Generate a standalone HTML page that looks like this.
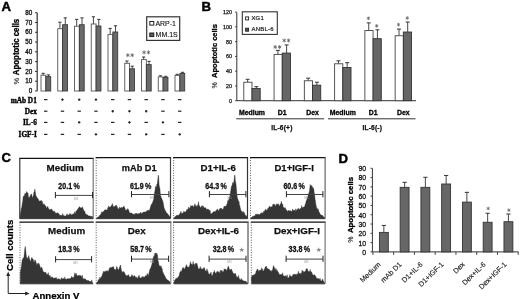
<!DOCTYPE html>
<html><head><meta charset="utf-8"><style>
html,body{margin:0;padding:0;background:#fff;}
body{width:520px;height:299px;overflow:hidden;font-family:"Liberation Sans",sans-serif;}
svg{display:block;filter:blur(0.35px);}
</style></head><body>
<svg width="520" height="299" viewBox="0 0 520 299">
<rect x="0" y="0" width="520" height="299" fill="#fff"/>
<text x="1.5" y="11.2" font-size="13.2" font-weight="bold" text-anchor="start" fill="#000" font-family="Liberation Sans, sans-serif" stroke="#000" stroke-width="0.45">A</text>
<line x1="37.2" y1="12.7" x2="37.2" y2="91.0" stroke="#333" stroke-width="1.2" />
<line x1="35.0" y1="91.0" x2="37.2" y2="91.0" stroke="#333" stroke-width="1.0" />
<text x="32.3" y="93.2" font-size="6.3" font-weight="normal" text-anchor="end" fill="#111" font-family="Liberation Sans, sans-serif" stroke="#111" stroke-width="0.3">0</text>
<line x1="35.0" y1="81.2125" x2="37.2" y2="81.2125" stroke="#333" stroke-width="1.0" />
<text x="32.3" y="83.41250000000001" font-size="6.3" font-weight="normal" text-anchor="end" fill="#111" font-family="Liberation Sans, sans-serif" stroke="#111" stroke-width="0.3">10</text>
<line x1="35.0" y1="71.425" x2="37.2" y2="71.425" stroke="#333" stroke-width="1.0" />
<text x="32.3" y="73.625" font-size="6.3" font-weight="normal" text-anchor="end" fill="#111" font-family="Liberation Sans, sans-serif" stroke="#111" stroke-width="0.3">20</text>
<line x1="35.0" y1="61.6375" x2="37.2" y2="61.6375" stroke="#333" stroke-width="1.0" />
<text x="32.3" y="63.837500000000006" font-size="6.3" font-weight="normal" text-anchor="end" fill="#111" font-family="Liberation Sans, sans-serif" stroke="#111" stroke-width="0.3">30</text>
<line x1="35.0" y1="51.85" x2="37.2" y2="51.85" stroke="#333" stroke-width="1.0" />
<text x="32.3" y="54.050000000000004" font-size="6.3" font-weight="normal" text-anchor="end" fill="#111" font-family="Liberation Sans, sans-serif" stroke="#111" stroke-width="0.3">40</text>
<line x1="35.0" y1="42.0625" x2="37.2" y2="42.0625" stroke="#333" stroke-width="1.0" />
<text x="32.3" y="44.2625" font-size="6.3" font-weight="normal" text-anchor="end" fill="#111" font-family="Liberation Sans, sans-serif" stroke="#111" stroke-width="0.3">50</text>
<line x1="35.0" y1="32.275" x2="37.2" y2="32.275" stroke="#333" stroke-width="1.0" />
<text x="32.3" y="34.475" font-size="6.3" font-weight="normal" text-anchor="end" fill="#111" font-family="Liberation Sans, sans-serif" stroke="#111" stroke-width="0.3">60</text>
<line x1="35.0" y1="22.487499999999997" x2="37.2" y2="22.487499999999997" stroke="#333" stroke-width="1.0" />
<text x="32.3" y="24.687499999999996" font-size="6.3" font-weight="normal" text-anchor="end" fill="#111" font-family="Liberation Sans, sans-serif" stroke="#111" stroke-width="0.3">70</text>
<line x1="35.0" y1="12.700000000000003" x2="37.2" y2="12.700000000000003" stroke="#333" stroke-width="1.0" />
<text x="32.3" y="14.900000000000002" font-size="6.3" font-weight="normal" text-anchor="end" fill="#111" font-family="Liberation Sans, sans-serif" stroke="#111" stroke-width="0.3">80</text>
<g transform="translate(19.0,75.2) rotate(-90) scale(0.895,1)"><text x="0" y="0" font-size="8.8" font-weight="bold" text-anchor="start" font-family="Liberation Sans, sans-serif" fill="#000" stroke="#000" stroke-width="0.3">Apoptotic cells</text></g>
<g transform="translate(19.0,81.1) rotate(-90)"><text x="0" y="0" font-size="7.5" text-anchor="middle" font-family="Liberation Sans, sans-serif" fill="#444" stroke="#444" stroke-width="0.2">%</text></g>
<line x1="43.175" y1="73.3" x2="43.175" y2="75.2" stroke="#333" stroke-width="0.9" />
<line x1="41.574999999999996" y1="73.3" x2="44.775" y2="73.3" stroke="#333" stroke-width="1.0" />
<rect x="41.0" y="75.2" width="4.85" height="15.799999999999997" fill="#fff" stroke="#555" stroke-width="0.9"/>
<line x1="48.525" y1="74.89999999999999" x2="48.525" y2="76.60000000000001" stroke="#333" stroke-width="0.9" />
<line x1="46.925" y1="74.89999999999999" x2="50.125" y2="74.89999999999999" stroke="#333" stroke-width="1.0" />
<rect x="45.85" y="76.60000000000001" width="4.85" height="14.399999999999991" fill="#6a6a6a" stroke="#3a3a3a" stroke-width="0.9"/>
<line x1="59.925" y1="22.2" x2="59.925" y2="28.7" stroke="#333" stroke-width="0.9" />
<line x1="58.324999999999996" y1="22.2" x2="61.525" y2="22.2" stroke="#333" stroke-width="1.0" />
<rect x="57.75" y="28.7" width="4.85" height="62.3" fill="#fff" stroke="#555" stroke-width="0.9"/>
<line x1="65.275" y1="17.900000000000002" x2="65.275" y2="24.7" stroke="#333" stroke-width="0.9" />
<line x1="63.675000000000004" y1="17.900000000000002" x2="66.875" y2="17.900000000000002" stroke="#333" stroke-width="1.0" />
<rect x="62.6" y="24.7" width="4.85" height="66.3" fill="#6a6a6a" stroke="#3a3a3a" stroke-width="0.9"/>
<line x1="76.675" y1="19.400000000000002" x2="76.675" y2="26.2" stroke="#333" stroke-width="0.9" />
<line x1="75.075" y1="19.400000000000002" x2="78.27499999999999" y2="19.400000000000002" stroke="#333" stroke-width="1.0" />
<rect x="74.5" y="26.2" width="4.85" height="64.8" fill="#fff" stroke="#555" stroke-width="0.9"/>
<line x1="82.02499999999999" y1="17.900000000000002" x2="82.02499999999999" y2="24.7" stroke="#333" stroke-width="0.9" />
<line x1="80.425" y1="17.900000000000002" x2="83.62499999999999" y2="17.900000000000002" stroke="#333" stroke-width="1.0" />
<rect x="79.35" y="24.7" width="4.85" height="66.3" fill="#6a6a6a" stroke="#3a3a3a" stroke-width="0.9"/>
<line x1="93.425" y1="16.8" x2="93.425" y2="24.0" stroke="#333" stroke-width="0.9" />
<line x1="91.825" y1="16.8" x2="95.02499999999999" y2="16.8" stroke="#333" stroke-width="1.0" />
<rect x="91.25" y="24.0" width="4.85" height="67.0" fill="#fff" stroke="#555" stroke-width="0.9"/>
<line x1="98.77499999999999" y1="19.400000000000002" x2="98.77499999999999" y2="26.0" stroke="#333" stroke-width="0.9" />
<line x1="97.175" y1="19.400000000000002" x2="100.37499999999999" y2="19.400000000000002" stroke="#333" stroke-width="1.0" />
<rect x="96.1" y="26.0" width="4.85" height="65.0" fill="#6a6a6a" stroke="#3a3a3a" stroke-width="0.9"/>
<line x1="110.175" y1="28.400000000000002" x2="110.175" y2="34.6" stroke="#333" stroke-width="0.9" />
<line x1="108.575" y1="28.400000000000002" x2="111.77499999999999" y2="28.400000000000002" stroke="#333" stroke-width="1.0" />
<rect x="108.0" y="34.6" width="4.85" height="56.4" fill="#fff" stroke="#555" stroke-width="0.9"/>
<line x1="115.52499999999999" y1="25.8" x2="115.52499999999999" y2="32.0" stroke="#333" stroke-width="0.9" />
<line x1="113.925" y1="25.8" x2="117.12499999999999" y2="25.8" stroke="#333" stroke-width="1.0" />
<rect x="112.85" y="32.0" width="4.85" height="59.0" fill="#6a6a6a" stroke="#3a3a3a" stroke-width="0.9"/>
<line x1="126.925" y1="61.0" x2="126.925" y2="63.3" stroke="#333" stroke-width="0.9" />
<line x1="125.325" y1="61.0" x2="128.525" y2="61.0" stroke="#333" stroke-width="1.0" />
<rect x="124.75" y="63.3" width="4.85" height="27.700000000000003" fill="#fff" stroke="#555" stroke-width="0.9"/>
<line x1="132.275" y1="66.2" x2="132.275" y2="68.80000000000001" stroke="#333" stroke-width="0.9" />
<line x1="130.675" y1="66.2" x2="133.875" y2="66.2" stroke="#333" stroke-width="1.0" />
<rect x="129.6" y="68.80000000000001" width="4.85" height="22.19999999999999" fill="#6a6a6a" stroke="#3a3a3a" stroke-width="0.9"/>
<line x1="143.675" y1="57.0" x2="143.675" y2="59.6" stroke="#333" stroke-width="0.9" />
<line x1="142.07500000000002" y1="57.0" x2="145.275" y2="57.0" stroke="#333" stroke-width="1.0" />
<rect x="141.5" y="59.6" width="4.85" height="31.4" fill="#fff" stroke="#555" stroke-width="0.9"/>
<line x1="149.025" y1="61.3" x2="149.025" y2="64.60000000000001" stroke="#333" stroke-width="0.9" />
<line x1="147.425" y1="61.3" x2="150.625" y2="61.3" stroke="#333" stroke-width="1.0" />
<rect x="146.35" y="64.60000000000001" width="4.85" height="26.39999999999999" fill="#6a6a6a" stroke="#3a3a3a" stroke-width="0.9"/>
<line x1="160.425" y1="75.8" x2="160.425" y2="76.9" stroke="#333" stroke-width="0.9" />
<line x1="158.82500000000002" y1="75.8" x2="162.025" y2="75.8" stroke="#333" stroke-width="1.0" />
<rect x="158.25" y="76.9" width="4.85" height="14.099999999999994" fill="#fff" stroke="#555" stroke-width="0.9"/>
<line x1="165.775" y1="76.3" x2="165.775" y2="77.4" stroke="#333" stroke-width="0.9" />
<line x1="164.175" y1="76.3" x2="167.375" y2="76.3" stroke="#333" stroke-width="1.0" />
<rect x="163.1" y="77.4" width="4.85" height="13.599999999999994" fill="#6a6a6a" stroke="#3a3a3a" stroke-width="0.9"/>
<line x1="177.175" y1="74.3" x2="177.175" y2="75.4" stroke="#333" stroke-width="0.9" />
<line x1="175.57500000000002" y1="74.3" x2="178.775" y2="74.3" stroke="#333" stroke-width="1.0" />
<rect x="175.0" y="75.4" width="4.85" height="15.599999999999994" fill="#fff" stroke="#555" stroke-width="0.9"/>
<line x1="182.525" y1="72.3" x2="182.525" y2="73.4" stroke="#333" stroke-width="0.9" />
<line x1="180.925" y1="72.3" x2="184.125" y2="72.3" stroke="#333" stroke-width="1.0" />
<rect x="179.85" y="73.4" width="4.85" height="17.599999999999994" fill="#6a6a6a" stroke="#3a3a3a" stroke-width="0.9"/>
<line x1="127.8" y1="53.25" x2="127.8" y2="57.15" stroke="#666" stroke-width="0.85" />
<line x1="126.11" y1="54.23" x2="129.49" y2="56.18" stroke="#666" stroke-width="0.85" />
<line x1="129.49" y1="54.23" x2="126.11" y2="56.18" stroke="#666" stroke-width="0.85" />
<line x1="132.2" y1="53.25" x2="132.2" y2="57.15" stroke="#666" stroke-width="0.85" />
<line x1="130.51" y1="54.23" x2="133.89" y2="56.18" stroke="#666" stroke-width="0.85" />
<line x1="133.89" y1="54.23" x2="130.51" y2="56.18" stroke="#666" stroke-width="0.85" />
<line x1="144.1" y1="50.45" x2="144.1" y2="54.35" stroke="#666" stroke-width="0.85" />
<line x1="142.41" y1="51.42" x2="145.79" y2="53.38" stroke="#666" stroke-width="0.85" />
<line x1="145.79" y1="51.42" x2="142.41" y2="53.38" stroke="#666" stroke-width="0.85" />
<line x1="148.5" y1="50.45" x2="148.5" y2="54.35" stroke="#666" stroke-width="0.85" />
<line x1="146.81" y1="51.42" x2="150.19" y2="53.38" stroke="#666" stroke-width="0.85" />
<line x1="150.19" y1="51.42" x2="146.81" y2="53.38" stroke="#666" stroke-width="0.85" />
<rect x="146.7" y="16.8" width="33.0" height="23.6" fill="#fff" stroke="#333" stroke-width="1.2"/>
<rect x="149.8" y="21.5" width="4.0" height="3.6" fill="#fff" stroke="#222" stroke-width="1.0"/>
<rect x="149.8" y="33.0" width="4.0" height="3.6" fill="#555" stroke="#222" stroke-width="1.0"/>
<text x="155.4" y="25.5" font-size="7.0" font-weight="normal" text-anchor="start" fill="#111" font-family="Liberation Sans, sans-serif" stroke="#111" stroke-width="0.12">ARP-1</text>
<text x="155.6" y="37.4" font-size="7.0" font-weight="normal" text-anchor="start" fill="#111" font-family="Liberation Sans, sans-serif" stroke="#111" stroke-width="0.12">MM.1S</text>
<text x="36.8" y="103.0" font-size="7.3" font-weight="bold" text-anchor="end" fill="#000" font-family="Liberation Serif, serif" stroke="#000" stroke-width="0.35">mAb D1</text>
<line x1="44.0" y1="99.6" x2="47.400000000000006" y2="99.6" stroke="#222" stroke-width="1.2" />
<line x1="61.25" y1="99.6" x2="63.650000000000006" y2="99.6" stroke="#222" stroke-width="1.2" />
<line x1="62.45" y1="98.39999999999999" x2="62.45" y2="100.8" stroke="#222" stroke-width="1.2" />
<line x1="78.0" y1="99.6" x2="80.4" y2="99.6" stroke="#222" stroke-width="1.2" />
<line x1="79.2" y1="98.39999999999999" x2="79.2" y2="100.8" stroke="#222" stroke-width="1.2" />
<line x1="94.75" y1="99.6" x2="97.15" y2="99.6" stroke="#222" stroke-width="1.2" />
<line x1="95.95" y1="98.39999999999999" x2="95.95" y2="100.8" stroke="#222" stroke-width="1.2" />
<line x1="111.0" y1="99.6" x2="114.4" y2="99.6" stroke="#222" stroke-width="1.2" />
<line x1="127.74999999999999" y1="99.6" x2="131.14999999999998" y2="99.6" stroke="#222" stroke-width="1.2" />
<line x1="144.5" y1="99.6" x2="147.89999999999998" y2="99.6" stroke="#222" stroke-width="1.2" />
<line x1="161.25" y1="99.6" x2="164.64999999999998" y2="99.6" stroke="#222" stroke-width="1.2" />
<line x1="178.0" y1="99.6" x2="181.39999999999998" y2="99.6" stroke="#222" stroke-width="1.2" />
<text x="36.8" y="114.2" font-size="7.3" font-weight="bold" text-anchor="end" fill="#000" font-family="Liberation Serif, serif" stroke="#000" stroke-width="0.35">Dex</text>
<line x1="44.0" y1="111.2" x2="47.400000000000006" y2="111.2" stroke="#222" stroke-width="1.2" />
<line x1="60.75" y1="111.2" x2="64.15" y2="111.2" stroke="#222" stroke-width="1.2" />
<line x1="77.5" y1="111.2" x2="80.9" y2="111.2" stroke="#222" stroke-width="1.2" />
<line x1="94.25" y1="111.2" x2="97.65" y2="111.2" stroke="#222" stroke-width="1.2" />
<line x1="111.5" y1="111.2" x2="113.9" y2="111.2" stroke="#222" stroke-width="1.2" />
<line x1="112.7" y1="110.0" x2="112.7" y2="112.4" stroke="#222" stroke-width="1.2" />
<line x1="128.25" y1="111.2" x2="130.64999999999998" y2="111.2" stroke="#222" stroke-width="1.2" />
<line x1="129.45" y1="110.0" x2="129.45" y2="112.4" stroke="#222" stroke-width="1.2" />
<line x1="145.0" y1="111.2" x2="147.39999999999998" y2="111.2" stroke="#222" stroke-width="1.2" />
<line x1="146.2" y1="110.0" x2="146.2" y2="112.4" stroke="#222" stroke-width="1.2" />
<line x1="161.25" y1="111.2" x2="164.64999999999998" y2="111.2" stroke="#222" stroke-width="1.2" />
<line x1="178.0" y1="111.2" x2="181.39999999999998" y2="111.2" stroke="#222" stroke-width="1.2" />
<text x="36.8" y="125.2" font-size="7.3" font-weight="bold" text-anchor="end" fill="#000" font-family="Liberation Serif, serif" stroke="#000" stroke-width="0.35">IL-6</text>
<line x1="44.0" y1="122.4" x2="47.400000000000006" y2="122.4" stroke="#222" stroke-width="1.2" />
<line x1="60.75" y1="122.4" x2="64.15" y2="122.4" stroke="#222" stroke-width="1.2" />
<line x1="78.0" y1="122.4" x2="80.4" y2="122.4" stroke="#222" stroke-width="1.2" />
<line x1="79.2" y1="121.2" x2="79.2" y2="123.60000000000001" stroke="#222" stroke-width="1.2" />
<line x1="94.25" y1="122.4" x2="97.65" y2="122.4" stroke="#222" stroke-width="1.2" />
<line x1="111.0" y1="122.4" x2="114.4" y2="122.4" stroke="#222" stroke-width="1.2" />
<line x1="128.25" y1="122.4" x2="130.64999999999998" y2="122.4" stroke="#222" stroke-width="1.2" />
<line x1="129.45" y1="121.2" x2="129.45" y2="123.60000000000001" stroke="#222" stroke-width="1.2" />
<line x1="144.5" y1="122.4" x2="147.89999999999998" y2="122.4" stroke="#222" stroke-width="1.2" />
<line x1="161.75" y1="122.4" x2="164.14999999999998" y2="122.4" stroke="#222" stroke-width="1.2" />
<line x1="162.95" y1="121.2" x2="162.95" y2="123.60000000000001" stroke="#222" stroke-width="1.2" />
<line x1="178.0" y1="122.4" x2="181.39999999999998" y2="122.4" stroke="#222" stroke-width="1.2" />
<text x="36.8" y="137.3" font-size="7.3" font-weight="bold" text-anchor="end" fill="#000" font-family="Liberation Serif, serif" stroke="#000" stroke-width="0.35">IGF-I</text>
<line x1="44.0" y1="134.4" x2="47.400000000000006" y2="134.4" stroke="#222" stroke-width="1.2" />
<line x1="60.75" y1="134.4" x2="64.15" y2="134.4" stroke="#222" stroke-width="1.2" />
<line x1="77.5" y1="134.4" x2="80.9" y2="134.4" stroke="#222" stroke-width="1.2" />
<line x1="94.75" y1="134.4" x2="97.15" y2="134.4" stroke="#222" stroke-width="1.2" />
<line x1="95.95" y1="133.20000000000002" x2="95.95" y2="135.6" stroke="#222" stroke-width="1.2" />
<line x1="111.0" y1="134.4" x2="114.4" y2="134.4" stroke="#222" stroke-width="1.2" />
<line x1="127.74999999999999" y1="134.4" x2="131.14999999999998" y2="134.4" stroke="#222" stroke-width="1.2" />
<line x1="145.0" y1="134.4" x2="147.39999999999998" y2="134.4" stroke="#222" stroke-width="1.2" />
<line x1="146.2" y1="133.20000000000002" x2="146.2" y2="135.6" stroke="#222" stroke-width="1.2" />
<line x1="161.25" y1="134.4" x2="164.64999999999998" y2="134.4" stroke="#222" stroke-width="1.2" />
<line x1="178.5" y1="134.4" x2="180.89999999999998" y2="134.4" stroke="#222" stroke-width="1.2" />
<line x1="179.7" y1="133.20000000000002" x2="179.7" y2="135.6" stroke="#222" stroke-width="1.2" />
<text x="201.4" y="10.8" font-size="13.2" font-weight="bold" text-anchor="start" fill="#000" font-family="Liberation Sans, sans-serif" stroke="#000" stroke-width="0.45">B</text>
<line x1="236.8" y1="12.3" x2="236.8" y2="100.7" stroke="#333" stroke-width="1.0" />
<line x1="236.8" y1="100.7" x2="416" y2="100.7" stroke="#333" stroke-width="1.0" />
<line x1="235.0" y1="100.7" x2="236.8" y2="100.7" stroke="#333" stroke-width="0.9" />
<text x="232.0" y="102.60000000000001" font-size="5.4" font-weight="normal" text-anchor="end" fill="#111" font-family="Liberation Sans, sans-serif" stroke="#111" stroke-width="0.25">0</text>
<line x1="235.0" y1="85.93333333333334" x2="236.8" y2="85.93333333333334" stroke="#333" stroke-width="0.9" />
<text x="232.0" y="87.83333333333334" font-size="5.4" font-weight="normal" text-anchor="end" fill="#111" font-family="Liberation Sans, sans-serif" stroke="#111" stroke-width="0.25">20</text>
<line x1="235.0" y1="71.16666666666667" x2="236.8" y2="71.16666666666667" stroke="#333" stroke-width="0.9" />
<text x="232.0" y="73.06666666666668" font-size="5.4" font-weight="normal" text-anchor="end" fill="#111" font-family="Liberation Sans, sans-serif" stroke="#111" stroke-width="0.25">40</text>
<line x1="235.0" y1="56.4" x2="236.8" y2="56.4" stroke="#333" stroke-width="0.9" />
<text x="232.0" y="58.3" font-size="5.4" font-weight="normal" text-anchor="end" fill="#111" font-family="Liberation Sans, sans-serif" stroke="#111" stroke-width="0.25">60</text>
<line x1="235.0" y1="41.63333333333333" x2="236.8" y2="41.63333333333333" stroke="#333" stroke-width="0.9" />
<text x="232.0" y="43.53333333333333" font-size="5.4" font-weight="normal" text-anchor="end" fill="#111" font-family="Liberation Sans, sans-serif" stroke="#111" stroke-width="0.25">80</text>
<line x1="235.0" y1="26.86666666666666" x2="236.8" y2="26.86666666666666" stroke="#333" stroke-width="0.9" />
<text x="232.0" y="28.76666666666666" font-size="5.4" font-weight="normal" text-anchor="end" fill="#111" font-family="Liberation Sans, sans-serif" stroke="#111" stroke-width="0.25">100</text>
<line x1="235.0" y1="12.099999999999994" x2="236.8" y2="12.099999999999994" stroke="#333" stroke-width="0.9" />
<text x="232.0" y="13.999999999999995" font-size="5.4" font-weight="normal" text-anchor="end" fill="#111" font-family="Liberation Sans, sans-serif" stroke="#111" stroke-width="0.25">120</text>
<g transform="translate(217.2,77.9) rotate(-90) scale(1.0,1)"><text x="0" y="0" font-size="7.5" font-weight="bold" text-anchor="start" font-family="Liberation Sans, sans-serif" fill="#000" stroke="#000" stroke-width="0.3">Apoptotic cells</text></g>
<g transform="translate(217.2,85.4) rotate(-90)"><text x="0" y="0" font-size="7" text-anchor="middle" font-family="Liberation Sans, sans-serif" fill="#444" stroke="#444" stroke-width="0.2">%</text></g>
<line x1="247.65" y1="79.28833333333333" x2="247.65" y2="82.24166666666667" stroke="#333" stroke-width="0.9" />
<line x1="245.65" y1="79.28833333333333" x2="249.65" y2="79.28833333333333" stroke="#333" stroke-width="1.0" />
<rect x="243.8" y="82.24166666666667" width="8.2" height="18.45833333333333" fill="#fff" stroke="#444" stroke-width="0.9"/>
<line x1="256.35" y1="86.67166666666667" x2="256.35" y2="88.5175" stroke="#333" stroke-width="0.9" />
<line x1="254.35000000000002" y1="86.67166666666667" x2="258.35" y2="86.67166666666667" stroke="#333" stroke-width="1.0" />
<rect x="252.0" y="88.5175" width="8.2" height="12.182500000000005" fill="#666" stroke="#333" stroke-width="0.9"/>
<line x1="277.92" y1="50.345666666666666" x2="277.92" y2="54.406499999999994" stroke="#333" stroke-width="0.9" />
<line x1="275.92" y1="50.345666666666666" x2="279.92" y2="50.345666666666666" stroke="#333" stroke-width="1.0" />
<rect x="274.07" y="54.406499999999994" width="8.2" height="46.29350000000001" fill="#fff" stroke="#444" stroke-width="0.9"/>
<line x1="286.62" y1="44.95583333333333" x2="286.62" y2="53.0775" stroke="#333" stroke-width="0.9" />
<line x1="284.62" y1="44.95583333333333" x2="288.62" y2="44.95583333333333" stroke="#333" stroke-width="1.0" />
<rect x="282.27" y="53.0775" width="8.2" height="47.6225" fill="#666" stroke="#333" stroke-width="0.9"/>
<line x1="308.19000000000005" y1="78.18083333333334" x2="308.19000000000005" y2="80.765" stroke="#333" stroke-width="0.9" />
<line x1="306.19000000000005" y1="78.18083333333334" x2="310.19000000000005" y2="78.18083333333334" stroke="#333" stroke-width="1.0" />
<rect x="304.34000000000003" y="80.765" width="8.2" height="19.935000000000002" fill="#fff" stroke="#444" stroke-width="0.9"/>
<line x1="316.89000000000004" y1="82.24166666666667" x2="316.89000000000004" y2="85.19500000000001" stroke="#333" stroke-width="0.9" />
<line x1="314.89000000000004" y1="82.24166666666667" x2="318.89000000000004" y2="82.24166666666667" stroke="#333" stroke-width="1.0" />
<rect x="312.54" y="85.19500000000001" width="8.2" height="15.504999999999995" fill="#666" stroke="#333" stroke-width="0.9"/>
<line x1="338.46000000000004" y1="60.83" x2="338.46000000000004" y2="63.78333333333333" stroke="#333" stroke-width="0.9" />
<line x1="336.46000000000004" y1="60.83" x2="340.46000000000004" y2="60.83" stroke="#333" stroke-width="1.0" />
<rect x="334.61" y="63.78333333333333" width="8.2" height="36.91666666666667" fill="#fff" stroke="#444" stroke-width="0.9"/>
<line x1="347.16" y1="62.67583333333333" x2="347.16" y2="67.475" stroke="#333" stroke-width="0.9" />
<line x1="345.16" y1="62.67583333333333" x2="349.16" y2="62.67583333333333" stroke="#333" stroke-width="1.0" />
<rect x="342.81" y="67.475" width="8.2" height="33.22500000000001" fill="#666" stroke="#333" stroke-width="0.9"/>
<line x1="368.73" y1="22.879666666666665" x2="368.73" y2="30.558333333333337" stroke="#333" stroke-width="0.9" />
<line x1="366.73" y1="22.879666666666665" x2="370.73" y2="22.879666666666665" stroke="#333" stroke-width="1.0" />
<rect x="364.88" y="30.558333333333337" width="8.2" height="70.14166666666667" fill="#fff" stroke="#444" stroke-width="0.9"/>
<line x1="377.43" y1="29.819999999999993" x2="377.43" y2="38.68" stroke="#333" stroke-width="0.9" />
<line x1="375.43" y1="29.819999999999993" x2="379.43" y2="29.819999999999993" stroke="#333" stroke-width="1.0" />
<rect x="373.08" y="38.68" width="8.2" height="62.02" fill="#666" stroke="#333" stroke-width="0.9"/>
<line x1="399.0" y1="29.081666666666663" x2="399.0" y2="35.72666666666666" stroke="#333" stroke-width="0.9" />
<line x1="397.0" y1="29.081666666666663" x2="401.0" y2="29.081666666666663" stroke="#333" stroke-width="1.0" />
<rect x="395.15" y="35.72666666666666" width="8.2" height="64.97333333333334" fill="#fff" stroke="#444" stroke-width="0.9"/>
<line x1="407.7" y1="22.067499999999995" x2="407.7" y2="32.035" stroke="#333" stroke-width="0.9" />
<line x1="405.7" y1="22.067499999999995" x2="409.7" y2="22.067499999999995" stroke="#333" stroke-width="1.0" />
<rect x="403.34999999999997" y="32.035" width="8.2" height="68.665" fill="#666" stroke="#333" stroke-width="0.9"/>
<line x1="275.2" y1="45.05" x2="275.2" y2="48.95" stroke="#666" stroke-width="0.85" />
<line x1="273.51" y1="46.02" x2="276.89" y2="47.98" stroke="#666" stroke-width="0.85" />
<line x1="276.89" y1="46.02" x2="273.51" y2="47.98" stroke="#666" stroke-width="0.85" />
<line x1="279.6" y1="45.05" x2="279.6" y2="48.95" stroke="#666" stroke-width="0.85" />
<line x1="277.91" y1="46.02" x2="281.29" y2="47.98" stroke="#666" stroke-width="0.85" />
<line x1="281.29" y1="46.02" x2="277.91" y2="47.98" stroke="#666" stroke-width="0.85" />
<line x1="284.2" y1="38.55" x2="284.2" y2="42.45" stroke="#666" stroke-width="0.85" />
<line x1="282.51" y1="39.52" x2="285.89" y2="41.48" stroke="#666" stroke-width="0.85" />
<line x1="285.89" y1="39.52" x2="282.51" y2="41.48" stroke="#666" stroke-width="0.85" />
<line x1="288.6" y1="38.55" x2="288.6" y2="42.45" stroke="#666" stroke-width="0.85" />
<line x1="286.91" y1="39.52" x2="290.29" y2="41.48" stroke="#666" stroke-width="0.85" />
<line x1="290.29" y1="39.52" x2="286.91" y2="41.48" stroke="#666" stroke-width="0.85" />
<line x1="368.4" y1="16.5" x2="368.4" y2="20.1" stroke="#666" stroke-width="0.8" />
<line x1="366.84" y1="17.4" x2="369.96" y2="19.2" stroke="#666" stroke-width="0.8" />
<line x1="369.96" y1="17.4" x2="366.84" y2="19.2" stroke="#666" stroke-width="0.8" />
<line x1="376.7" y1="24.1" x2="376.7" y2="27.7" stroke="#666" stroke-width="0.8" />
<line x1="375.14" y1="25.0" x2="378.26" y2="26.8" stroke="#666" stroke-width="0.8" />
<line x1="378.26" y1="25.0" x2="375.14" y2="26.8" stroke="#666" stroke-width="0.8" />
<line x1="398.5" y1="22.8" x2="398.5" y2="26.4" stroke="#666" stroke-width="0.8" />
<line x1="396.94" y1="23.7" x2="400.06" y2="25.5" stroke="#666" stroke-width="0.8" />
<line x1="400.06" y1="23.7" x2="396.94" y2="25.5" stroke="#666" stroke-width="0.8" />
<line x1="407.3" y1="16.2" x2="407.3" y2="19.8" stroke="#666" stroke-width="0.8" />
<line x1="405.74" y1="17.1" x2="408.86" y2="18.9" stroke="#666" stroke-width="0.8" />
<line x1="408.86" y1="17.1" x2="405.74" y2="18.9" stroke="#666" stroke-width="0.8" />
<rect x="242.3" y="11.8" width="35.0" height="22.6" fill="#fff" stroke="#333" stroke-width="1.1"/>
<rect x="245.6" y="16.9" width="3.0" height="3.0" fill="#fff" stroke="#222" stroke-width="0.9"/>
<rect x="245.6" y="28.2" width="3.0" height="3.0" fill="#555" stroke="#222" stroke-width="0.9"/>
<text x="251.4" y="20.1" font-size="6.0" font-weight="normal" text-anchor="start" fill="#222" font-family="Liberation Sans, sans-serif" stroke="#222" stroke-width="0.2" letter-spacing="0.2">XG1</text>
<text x="251.4" y="31.3" font-size="6.0" font-weight="normal" text-anchor="start" fill="#222" font-family="Liberation Sans, sans-serif" stroke="#222" stroke-width="0.2" letter-spacing="0.25">ANBL-6</text>
<text x="252.0" y="114.8" font-size="6.9" font-weight="bold" text-anchor="middle" fill="#000" font-family="Liberation Sans, sans-serif" stroke="#000" stroke-width="0.3">Medium</text>
<text x="282.27" y="114.8" font-size="6.9" font-weight="bold" text-anchor="middle" fill="#000" font-family="Liberation Sans, sans-serif" stroke="#000" stroke-width="0.3">D1</text>
<text x="312.54" y="114.8" font-size="6.9" font-weight="bold" text-anchor="middle" fill="#000" font-family="Liberation Sans, sans-serif" stroke="#000" stroke-width="0.3">Dex</text>
<text x="342.81" y="114.8" font-size="6.9" font-weight="bold" text-anchor="middle" fill="#000" font-family="Liberation Sans, sans-serif" stroke="#000" stroke-width="0.3">Medium</text>
<text x="373.08" y="114.8" font-size="6.9" font-weight="bold" text-anchor="middle" fill="#000" font-family="Liberation Sans, sans-serif" stroke="#000" stroke-width="0.3">D1</text>
<text x="403.34999999999997" y="114.8" font-size="6.9" font-weight="bold" text-anchor="middle" fill="#000" font-family="Liberation Sans, sans-serif" stroke="#000" stroke-width="0.3">Dex</text>
<line x1="236.3" y1="118.8" x2="324.2" y2="118.8" stroke="#333" stroke-width="1.0" />
<line x1="328.0" y1="118.8" x2="415.5" y2="118.8" stroke="#333" stroke-width="1.0" />
<text x="281.9" y="129.8" font-size="6.6" font-weight="bold" text-anchor="middle" fill="#111" font-family="Liberation Sans, sans-serif" stroke="#111" stroke-width="0.25" letter-spacing="0.2">IL-6(+)</text>
<text x="372.3" y="129.8" font-size="6.6" font-weight="bold" text-anchor="middle" fill="#111" font-family="Liberation Sans, sans-serif" stroke="#111" stroke-width="0.25" letter-spacing="0.2">IL-6(-)</text>
<text x="1.4" y="161.8" font-size="13.0" font-weight="bold" text-anchor="start" fill="#000" font-family="Liberation Sans, sans-serif" stroke="#000" stroke-width="0.45">C</text>
<polygon points="20.10,218.50 20.40,214.07 20.85,211.60 21.30,208.17 21.75,207.47 22.20,204.01 22.65,201.47 23.10,197.23 23.55,196.10 24.00,196.23 24.45,195.32 24.90,193.39 25.35,194.57 25.80,193.26 26.25,192.44 26.70,191.43 27.15,192.63 27.60,192.82 28.05,193.28 28.50,197.97 28.95,197.17 29.40,197.15 29.85,197.57 30.30,194.79 30.75,196.41 31.20,194.03 31.65,193.89 32.10,196.43 32.55,197.93 33.00,196.62 33.45,195.52 33.90,192.12 34.35,191.94 34.80,189.05 35.25,191.59 35.70,194.64 36.15,195.90 36.60,196.82 37.05,197.83 37.50,197.99 37.95,198.63 38.40,199.14 38.85,200.80 39.30,201.50 39.75,200.81 40.20,200.69 40.65,201.33 41.10,200.16 41.55,201.01 42.00,202.01 42.45,201.46 42.90,205.31 43.35,203.69 43.80,204.46 44.25,204.02 44.70,205.15 45.15,205.98 45.60,205.66 46.05,206.72 46.50,208.09 46.95,208.00 47.40,206.63 47.85,206.46 48.30,207.95 48.75,208.71 49.20,209.76 49.65,209.41 50.10,209.62 50.55,209.44 51.00,209.77 51.45,208.78 51.90,209.28 52.35,210.67 52.80,210.47 53.25,211.61 53.70,211.46 54.15,211.01 54.60,211.59 55.05,212.65 55.50,212.63 55.95,213.48 56.40,213.33 56.85,212.86 57.30,212.74 57.75,213.08 58.20,213.11 58.65,214.03 59.10,214.00 59.55,214.81 60.00,215.66 60.45,215.33 60.90,215.16 61.35,215.38 61.80,215.31 62.25,215.21 62.70,213.55 63.15,214.85 63.60,215.70 64.05,215.68 64.50,216.06 64.95,215.67 65.40,216.20 65.85,216.17 66.30,214.35 66.75,215.91 67.20,213.80 67.65,215.94 68.10,215.06 68.55,214.80 69.00,215.16 69.45,214.55 69.90,213.50 70.35,215.14 70.80,213.51 71.25,214.95 71.70,214.96 72.15,214.54 72.60,214.23 73.05,213.86 73.50,214.04 73.95,214.15 74.40,211.72 74.85,213.74 75.30,213.46 75.75,211.80 76.20,210.79 76.65,210.91 77.10,210.18 77.55,209.31 78.00,208.81 78.45,207.81 78.90,207.95 79.35,206.85 79.80,206.73 80.25,208.12 80.70,207.64 81.15,207.65 81.60,207.91 82.05,207.73 82.50,206.67 82.95,208.39 83.40,209.31 83.85,210.67 84.30,211.46 84.75,210.81 85.20,213.55 85.65,213.79 86.10,213.88 86.55,214.75 87.00,215.09 87.45,214.87 87.90,215.27 88.35,215.92 88.80,215.83 89.25,216.11 89.70,216.07 90.15,215.83 90.60,216.35 91.05,216.75 91.50,216.61 91.95,215.93 92.40,216.96 92.85,216.26 93.00,218.50" fill="#353535" stroke="#222" stroke-width="0.35"/>
<line x1="19.3" y1="158.3" x2="93.8" y2="158.3" stroke="#111" stroke-width="1.2" />
<line x1="93.2" y1="158.3" x2="93.2" y2="218.7" stroke="#777" stroke-width="1.2" />
<line x1="19.8" y1="158.3" x2="19.8" y2="218.7" stroke="#222" stroke-width="1.1" />
<line x1="19.8" y1="218.7" x2="93.2" y2="218.7" stroke="#222" stroke-width="0.8" />
<text x="65.1" y="170.6" font-size="9.8" font-weight="bold" text-anchor="middle" fill="#111" font-family="Liberation Sans, sans-serif" stroke="#111" stroke-width="0.25">Medium</text>
<text transform="translate(69.00,188.5) scale(0.8,1)" font-size="8.9" font-weight="bold" text-anchor="middle" font-family="Liberation Sans, sans-serif" fill="#111" stroke="#111" stroke-width="0.3">20.1<tspan dx="1.6">%</tspan></text>
<line x1="55.4" y1="195.4" x2="92.6" y2="195.4" stroke="#444" stroke-width="1.0" />
<line x1="55.4" y1="192.0" x2="55.4" y2="198.20000000000002" stroke="#222" stroke-width="1.0" />
<line x1="92.6" y1="192.0" x2="92.6" y2="198.20000000000002" stroke="#222" stroke-width="1.0" />
<text x="76.0" y="199.6" font-size="3.4" font-weight="normal" text-anchor="middle" fill="#999" font-family="Liberation Sans, sans-serif" >M1</text>
<polygon points="96.50,218.50 97.00,217.56 97.45,217.22 97.90,217.30 98.35,217.02 98.80,216.73 99.25,215.84 99.70,215.36 100.15,215.05 100.60,214.60 101.05,213.90 101.50,211.70 101.95,212.71 102.40,212.23 102.85,211.63 103.30,211.45 103.75,211.71 104.20,210.41 104.65,210.09 105.10,209.66 105.55,209.70 106.00,209.78 106.45,210.07 106.90,210.19 107.35,209.66 107.80,207.51 108.25,207.68 108.70,205.96 109.15,206.78 109.60,207.30 110.05,207.31 110.50,206.72 110.95,206.41 111.40,205.40 111.85,205.32 112.30,203.44 112.75,204.99 113.20,206.52 113.65,206.91 114.10,206.31 114.55,206.42 115.00,206.91 115.45,205.19 115.90,205.67 116.35,204.98 116.80,206.79 117.25,206.48 117.70,208.86 118.15,208.33 118.60,209.23 119.05,209.34 119.50,206.84 119.95,207.92 120.40,207.89 120.85,207.93 121.30,207.25 121.75,207.78 122.20,207.23 122.65,208.46 123.10,206.94 123.55,206.87 124.00,205.91 124.45,207.53 124.90,208.06 125.35,209.77 125.80,210.59 126.25,209.89 126.70,210.06 127.15,209.55 127.60,208.84 128.05,208.83 128.50,209.64 128.95,210.89 129.40,212.29 129.85,213.27 130.30,212.78 130.75,213.32 131.20,213.01 131.65,213.05 132.10,213.25 132.55,214.23 133.00,214.37 133.45,213.86 133.90,214.73 134.35,214.67 134.80,213.59 135.25,213.38 135.70,213.83 136.15,213.37 136.60,213.56 137.05,213.68 137.50,214.50 137.95,213.46 138.40,214.27 138.85,213.23 139.30,213.73 139.75,213.28 140.20,213.34 140.65,212.19 141.10,212.93 141.55,213.62 142.00,213.98 142.45,212.61 142.90,212.83 143.35,212.12 143.80,212.25 144.25,211.67 144.70,212.32 145.15,211.90 145.60,211.90 146.05,211.52 146.50,211.21 146.95,210.66 147.40,210.13 147.85,210.88 148.30,209.90 148.75,210.72 149.20,210.45 149.65,209.78 150.10,208.20 150.55,206.64 151.00,205.10 151.45,204.37 151.90,204.23 152.35,202.93 152.80,201.86 153.25,200.57 153.70,199.16 154.15,195.11 154.60,192.51 155.05,190.01 155.50,187.08 155.95,186.02 156.40,188.29 156.85,184.03 157.30,183.64 157.75,179.87 158.20,175.01 158.65,176.56 159.10,184.90 159.55,187.28 160.00,189.36 160.45,195.59 160.90,196.25 161.35,198.20 161.80,198.30 162.25,200.09 162.70,200.70 163.15,202.51 163.60,204.89 164.05,207.84 164.50,208.77 164.95,210.10 165.40,210.69 165.85,211.57 166.30,212.69 166.75,212.87 167.20,213.37 167.65,214.05 168.10,214.32 168.55,215.12 169.00,215.58 169.45,216.34 169.90,216.71 170.30,218.50" fill="#353535" stroke="#222" stroke-width="0.35"/>
<line x1="95.7" y1="157.6" x2="171.1" y2="157.6" stroke="#111" stroke-width="1.2" />
<line x1="170.5" y1="157.6" x2="170.5" y2="218.7" stroke="#444" stroke-width="1.2" />
<line x1="96.2" y1="157.6" x2="96.2" y2="218.7" stroke="#444" stroke-width="0.9" stroke-dasharray="1,1.5"/>
<line x1="96.2" y1="218.7" x2="170.5" y2="218.7" stroke="#222" stroke-width="0.8" />
<text x="139.2" y="170.6" font-size="9.2" font-weight="bold" text-anchor="middle" fill="#111" font-family="Liberation Sans, sans-serif" stroke="#111" stroke-width="0.25">mAb D1</text>
<text transform="translate(140.65,188.5) scale(0.8,1)" font-size="8.9" font-weight="bold" text-anchor="middle" font-family="Liberation Sans, sans-serif" fill="#111" stroke="#111" stroke-width="0.3">61.9<tspan dx="1.6">%</tspan></text>
<line x1="131.5" y1="194.5" x2="168.9" y2="194.5" stroke="#444" stroke-width="1.0" />
<line x1="131.5" y1="191.1" x2="131.5" y2="197.3" stroke="#222" stroke-width="1.0" />
<line x1="168.9" y1="191.1" x2="168.9" y2="197.3" stroke="#222" stroke-width="1.0" />
<text x="152.2" y="198.7" font-size="3.4" font-weight="normal" text-anchor="middle" fill="#999" font-family="Liberation Sans, sans-serif" >M1</text>
<polygon points="173.90,218.50 174.20,217.54 174.65,217.25 175.10,216.81 175.55,216.14 176.00,215.94 176.45,215.50 176.90,215.16 177.35,215.79 177.80,215.10 178.25,215.25 178.70,215.23 179.15,214.79 179.60,214.09 180.05,213.20 180.50,213.12 180.95,211.16 181.40,213.39 181.85,213.82 182.30,212.93 182.75,213.36 183.20,213.25 183.65,211.29 184.10,211.60 184.55,211.99 185.00,212.09 185.45,212.34 185.90,211.22 186.35,211.35 186.80,209.59 187.25,209.23 187.70,209.49 188.15,209.58 188.60,206.96 189.05,208.40 189.50,208.10 189.95,208.16 190.40,206.69 190.85,205.36 191.30,206.36 191.75,206.02 192.20,205.75 192.65,205.56 193.10,207.18 193.55,206.74 194.00,205.97 194.45,205.23 194.90,203.75 195.35,205.06 195.80,206.24 196.25,205.73 196.70,206.48 197.15,206.39 197.60,205.00 198.05,204.66 198.50,201.69 198.95,204.58 199.40,206.53 199.85,205.92 200.30,207.88 200.75,207.07 201.20,207.67 201.65,205.67 202.10,206.90 202.55,205.61 203.00,206.75 203.45,206.06 203.90,207.83 204.35,207.73 204.80,208.00 205.25,207.92 205.70,207.48 206.15,208.67 206.60,209.34 207.05,209.90 207.50,209.11 207.95,208.88 208.40,209.49 208.85,209.54 209.30,209.91 209.75,211.08 210.20,210.51 210.65,214.28 211.10,213.82 211.55,214.02 212.00,212.76 212.45,213.14 212.90,212.61 213.35,211.66 213.80,211.76 214.25,211.20 214.70,211.89 215.15,211.98 215.60,211.35 216.05,210.27 216.50,210.51 216.95,209.29 217.40,209.08 217.85,210.24 218.30,210.45 218.75,210.86 219.20,209.64 219.65,208.81 220.10,208.19 220.55,208.62 221.00,208.39 221.45,208.34 221.90,208.84 222.35,208.95 222.80,209.70 223.25,208.89 223.70,207.40 224.15,206.08 224.60,206.45 225.05,206.12 225.50,206.38 225.95,206.22 226.40,205.73 226.85,203.89 227.30,203.50 227.75,200.59 228.20,200.63 228.65,199.72 229.10,198.96 229.55,197.02 230.00,195.43 230.45,192.54 230.90,190.03 231.35,186.64 231.80,185.84 232.25,184.77 232.70,182.41 233.15,184.30 233.60,182.58 234.05,180.81 234.50,175.73 234.95,174.92 235.40,181.21 235.85,182.94 236.30,187.20 236.75,193.06 237.20,196.93 237.65,199.02 238.10,199.41 238.55,202.17 239.00,201.15 239.45,204.88 239.90,206.17 240.35,208.17 240.80,209.93 241.25,210.83 241.70,211.68 242.15,211.30 242.60,212.62 243.05,212.79 243.50,211.36 243.95,213.41 244.40,212.42 244.85,214.62 245.30,215.14 245.75,215.40 246.20,215.49 246.65,216.02 247.10,217.00 247.30,218.50" fill="#353535" stroke="#222" stroke-width="0.35"/>
<line x1="173.1" y1="157.6" x2="248.1" y2="157.6" stroke="#111" stroke-width="1.2" />
<line x1="247.5" y1="157.6" x2="247.5" y2="218.7" stroke="#333" stroke-width="1.2" />
<line x1="173.6" y1="157.6" x2="173.6" y2="218.7" stroke="#444" stroke-width="0.9" stroke-dasharray="1,1.5"/>
<line x1="173.6" y1="218.7" x2="247.5" y2="218.7" stroke="#222" stroke-width="0.8" />
<text x="218.25" y="170.6" font-size="9.7" font-weight="bold" text-anchor="middle" fill="#111" font-family="Liberation Sans, sans-serif" stroke="#111" stroke-width="0.25">D1+IL-6</text>
<text transform="translate(216.00,188.5) scale(0.8,1)" font-size="8.9" font-weight="bold" text-anchor="middle" font-family="Liberation Sans, sans-serif" fill="#111" stroke="#111" stroke-width="0.3">64.3<tspan dx="1.6">%</tspan></text>
<line x1="209.4" y1="194.5" x2="245.9" y2="194.5" stroke="#444" stroke-width="1.0" />
<line x1="209.4" y1="191.1" x2="209.4" y2="197.3" stroke="#222" stroke-width="1.0" />
<line x1="245.9" y1="191.1" x2="245.9" y2="197.3" stroke="#222" stroke-width="1.0" />
<text x="229.65" y="198.7" font-size="3.4" font-weight="normal" text-anchor="middle" fill="#999" font-family="Liberation Sans, sans-serif" >M1</text>
<polygon points="250.80,218.50 251.20,217.44 251.65,217.34 252.10,216.87 252.55,216.60 253.00,216.74 253.45,216.13 253.90,216.00 254.35,216.05 254.80,215.46 255.25,215.48 255.70,214.03 256.15,214.07 256.60,214.36 257.05,214.54 257.50,214.30 257.95,214.51 258.40,214.46 258.85,214.12 259.30,214.89 259.75,214.61 260.20,213.71 260.65,213.35 261.10,213.76 261.55,212.67 262.00,213.10 262.45,212.55 262.90,213.65 263.35,212.55 263.80,211.11 264.25,211.93 264.70,210.51 265.15,209.99 265.60,208.95 266.05,210.65 266.50,209.84 266.95,210.32 267.40,209.69 267.85,208.15 268.30,208.50 268.75,207.48 269.20,206.93 269.65,205.91 270.10,206.92 270.55,206.88 271.00,207.62 271.45,206.57 271.90,206.88 272.35,206.45 272.80,204.62 273.25,204.05 273.70,204.74 274.15,203.78 274.60,205.23 275.05,204.78 275.50,206.16 275.95,205.95 276.40,203.70 276.85,204.58 277.30,204.50 277.75,203.94 278.20,203.56 278.65,204.58 279.10,205.52 279.55,206.34 280.00,205.05 280.45,203.81 280.90,203.38 281.35,201.26 281.80,203.17 282.25,204.38 282.70,204.01 283.15,207.35 283.60,207.19 284.05,207.86 284.50,208.52 284.95,207.47 285.40,207.86 285.85,209.20 286.30,210.08 286.75,210.14 287.20,210.72 287.65,211.86 288.10,211.01 288.55,210.37 289.00,210.43 289.45,211.05 289.90,210.69 290.35,210.32 290.80,211.62 291.25,211.57 291.70,211.22 292.15,211.30 292.60,208.94 293.05,210.46 293.50,209.95 293.95,210.96 294.40,209.86 294.85,210.94 295.30,211.39 295.75,208.66 296.20,210.73 296.65,210.04 297.10,209.43 297.55,208.80 298.00,209.63 298.45,208.14 298.90,208.68 299.35,208.90 299.80,210.36 300.25,208.58 300.70,208.21 301.15,208.85 301.60,205.48 302.05,207.38 302.50,207.86 302.95,206.89 303.40,206.94 303.85,207.59 304.30,206.49 304.75,206.49 305.20,203.98 305.65,204.05 306.10,200.84 306.55,200.38 307.00,198.93 307.45,197.73 307.90,196.36 308.35,194.53 308.80,193.30 309.25,191.90 309.70,189.13 310.15,184.38 310.60,185.60 311.05,186.26 311.50,185.36 311.95,186.36 312.40,186.67 312.85,188.30 313.30,187.87 313.75,189.27 314.20,192.40 314.65,195.02 315.10,199.10 315.55,201.95 316.00,205.29 316.45,207.02 316.90,208.49 317.35,208.42 317.80,210.14 318.25,208.87 318.70,211.33 319.15,211.84 319.60,212.99 320.05,213.72 320.50,214.84 320.95,214.84 321.40,215.27 321.85,215.03 322.30,215.51 322.75,215.62 323.20,216.53 323.65,216.64 324.10,217.21 324.55,217.13 324.80,218.50" fill="#353535" stroke="#222" stroke-width="0.35"/>
<line x1="250.0" y1="157.6" x2="325.70000000000005" y2="157.6" stroke="#111" stroke-width="1.2" />
<line x1="325.1" y1="157.6" x2="325.1" y2="218.7" stroke="#666" stroke-width="1.2" />
<line x1="250.5" y1="157.6" x2="250.5" y2="218.7" stroke="#444" stroke-width="0.9" stroke-dasharray="1,1.5"/>
<line x1="250.5" y1="218.7" x2="325.1" y2="218.7" stroke="#222" stroke-width="0.8" />
<text x="294.15" y="170.6" font-size="9.5" font-weight="bold" text-anchor="middle" fill="#111" font-family="Liberation Sans, sans-serif" stroke="#111" stroke-width="0.25">D1+IGF-I</text>
<text transform="translate(294.10,188.5) scale(0.8,1)" font-size="8.9" font-weight="bold" text-anchor="middle" font-family="Liberation Sans, sans-serif" fill="#111" stroke="#111" stroke-width="0.3">60.6<tspan dx="1.6">%</tspan></text>
<line x1="286.4" y1="194.5" x2="322.9" y2="194.5" stroke="#444" stroke-width="1.0" />
<line x1="286.4" y1="191.1" x2="286.4" y2="197.3" stroke="#222" stroke-width="1.0" />
<line x1="322.9" y1="191.1" x2="322.9" y2="197.3" stroke="#222" stroke-width="1.0" />
<text x="306.65" y="198.7" font-size="3.4" font-weight="normal" text-anchor="middle" fill="#999" font-family="Liberation Sans, sans-serif" >M1</text>
<polygon points="20.30,283.60 20.30,272.43 20.75,269.71 21.20,267.84 21.65,264.22 22.10,260.52 22.55,259.27 23.00,258.18 23.45,257.94 23.90,257.36 24.35,253.47 24.80,248.62 25.25,246.37 25.70,249.43 26.15,254.34 26.60,258.12 27.05,257.61 27.50,259.40 27.95,257.65 28.40,256.75 28.85,255.44 29.30,258.21 29.75,259.53 30.20,261.05 30.65,262.01 31.10,259.46 31.55,257.69 32.00,257.38 32.45,258.88 32.90,258.96 33.35,259.57 33.80,261.94 34.25,262.44 34.70,260.30 35.15,259.84 35.60,260.63 36.05,262.42 36.50,263.61 36.95,265.84 37.40,263.47 37.85,263.77 38.30,264.01 38.75,262.88 39.20,264.06 39.65,265.35 40.10,266.60 40.55,268.19 41.00,268.21 41.45,266.94 41.90,267.41 42.35,269.06 42.80,270.53 43.25,272.08 43.70,271.72 44.15,272.68 44.60,272.10 45.05,272.13 45.50,272.39 45.95,272.52 46.40,273.42 46.85,275.30 47.30,274.32 47.75,274.84 48.20,272.51 48.65,275.23 49.10,275.55 49.55,276.43 50.00,274.83 50.45,277.50 50.90,277.47 51.35,277.48 51.80,276.65 52.25,276.88 52.70,277.56 53.15,277.67 53.60,278.74 54.05,277.91 54.50,278.06 54.95,278.41 55.40,277.86 55.85,277.90 56.30,277.27 56.75,279.26 57.20,279.46 57.65,278.77 58.10,279.22 58.55,278.77 59.00,278.50 59.45,279.52 59.90,279.14 60.35,279.67 60.80,279.26 61.25,278.86 61.70,277.60 62.15,279.20 62.60,278.65 63.05,278.02 63.50,279.06 63.95,279.10 64.40,279.35 64.85,276.79 65.30,278.98 65.75,279.06 66.20,279.51 66.65,278.99 67.10,278.79 67.55,278.75 68.00,278.71 68.45,278.75 68.90,278.55 69.35,278.63 69.80,278.46 70.25,278.53 70.70,278.61 71.15,277.71 71.60,276.32 72.05,277.36 72.50,277.44 72.95,277.80 73.40,277.93 73.85,276.75 74.30,275.95 74.75,272.71 75.20,274.77 75.65,274.22 76.10,273.02 76.55,274.86 77.00,275.39 77.45,275.69 77.90,276.12 78.35,275.35 78.80,275.43 79.25,275.23 79.70,275.45 80.15,275.87 80.60,275.51 81.05,275.56 81.50,276.69 81.95,276.93 82.40,275.13 82.85,278.38 83.30,279.11 83.75,278.76 84.20,278.79 84.65,278.86 85.10,279.05 85.55,278.89 86.00,279.90 86.45,280.19 86.90,280.03 87.35,280.56 87.80,280.68 88.25,280.52 88.70,280.47 89.15,280.98 89.60,281.55 90.05,281.37 90.50,281.54 90.95,281.30 91.40,281.46 91.85,279.84 92.30,282.67 92.75,282.69 93.00,283.60" fill="#353535" stroke="#222" stroke-width="0.35"/>
<line x1="19.5" y1="222.2" x2="93.8" y2="222.2" stroke="#111" stroke-width="1.2" />
<line x1="20.0" y1="222.2" x2="20.0" y2="283.8" stroke="#444" stroke-width="0.9" stroke-dasharray="1,1.5"/>
<line x1="20.0" y1="283.8" x2="93.2" y2="283.8" stroke="#222" stroke-width="0.8" />
<text x="66.6" y="233.8" font-size="9.8" font-weight="bold" text-anchor="middle" fill="#111" font-family="Liberation Sans, sans-serif" stroke="#111" stroke-width="0.25">Medium</text>
<text transform="translate(68.90,252.0) scale(0.8,1)" font-size="8.9" font-weight="bold" text-anchor="middle" font-family="Liberation Sans, sans-serif" fill="#111" stroke="#111" stroke-width="0.3">18.3<tspan dx="1.6">%</tspan></text>
<line x1="55.6" y1="259.6" x2="91.6" y2="259.6" stroke="#444" stroke-width="1.0" />
<line x1="55.6" y1="256.20000000000005" x2="55.6" y2="262.40000000000003" stroke="#222" stroke-width="1.0" />
<line x1="91.6" y1="256.20000000000005" x2="91.6" y2="262.40000000000003" stroke="#222" stroke-width="1.0" />
<text x="75.6" y="263.8" font-size="3.4" font-weight="normal" text-anchor="middle" fill="#999" font-family="Liberation Sans, sans-serif" >M1</text>
<polygon points="96.50,283.60 97.20,282.07 97.65,281.65 98.10,280.55 98.55,279.73 99.00,279.22 99.45,279.09 99.90,276.88 100.35,278.37 100.80,278.46 101.25,277.19 101.70,276.10 102.15,275.54 102.60,273.81 103.05,272.75 103.50,271.41 103.95,271.37 104.40,271.42 104.85,272.05 105.30,271.98 105.75,270.74 106.20,271.05 106.65,271.13 107.10,270.42 107.55,270.89 108.00,271.41 108.45,271.62 108.90,269.69 109.35,268.46 109.80,267.66 110.25,268.07 110.70,267.31 111.15,267.12 111.60,268.58 112.05,266.88 112.50,267.17 112.95,266.87 113.40,266.59 113.85,267.90 114.30,269.70 114.75,268.99 115.20,269.47 115.65,269.90 116.10,269.45 116.55,266.63 117.00,266.48 117.45,268.45 117.90,268.98 118.35,269.74 118.80,270.20 119.25,268.07 119.70,267.00 120.15,265.60 120.60,264.97 121.05,268.20 121.50,271.09 121.95,271.43 122.40,271.74 122.85,272.53 123.30,271.27 123.75,272.26 124.20,272.23 124.65,272.83 125.10,274.00 125.55,275.26 126.00,275.44 126.45,275.32 126.90,276.55 127.35,275.44 127.80,275.29 128.25,275.57 128.70,274.48 129.15,276.06 129.60,277.18 130.05,276.86 130.50,277.08 130.95,276.89 131.40,275.64 131.85,274.62 132.30,275.45 132.75,275.87 133.20,276.70 133.65,276.71 134.10,275.49 134.55,275.83 135.00,276.12 135.45,277.14 135.90,277.44 136.35,276.82 136.80,277.97 137.25,278.51 137.70,278.18 138.15,276.43 138.60,276.91 139.05,275.06 139.50,277.40 139.95,277.76 140.40,277.81 140.85,278.35 141.30,277.75 141.75,277.47 142.20,276.24 142.65,276.98 143.10,277.54 143.55,276.71 144.00,276.92 144.45,277.32 144.90,276.87 145.35,275.56 145.80,275.98 146.25,276.06 146.70,275.59 147.15,273.38 147.60,274.06 148.05,275.68 148.50,275.24 148.95,273.34 149.40,271.21 149.85,269.30 150.30,268.73 150.75,267.75 151.20,266.49 151.65,265.18 152.10,263.43 152.55,260.47 153.00,258.57 153.45,257.15 153.90,255.66 154.35,256.66 154.80,252.94 155.25,253.32 155.70,252.92 156.15,254.55 156.60,253.03 157.05,254.23 157.50,254.87 157.95,260.50 158.40,261.29 158.85,264.42 159.30,265.38 159.75,266.59 160.20,265.63 160.65,267.21 161.10,265.80 161.55,268.43 162.00,267.83 162.45,270.51 162.90,272.94 163.35,272.70 163.80,274.50 164.25,275.12 164.70,275.44 165.15,276.68 165.60,277.59 166.05,279.12 166.50,278.87 166.95,279.58 167.40,279.99 167.85,279.99 168.30,280.47 168.75,280.64 169.20,280.99 169.65,281.86 170.10,282.33 170.30,283.60" fill="#353535" stroke="#222" stroke-width="0.35"/>
<line x1="95.7" y1="222.2" x2="171.4" y2="222.2" stroke="#111" stroke-width="1.2" />
<line x1="170.8" y1="222.2" x2="170.8" y2="283.8" stroke="#888" stroke-width="1.2" />
<line x1="96.2" y1="222.2" x2="96.2" y2="283.8" stroke="#444" stroke-width="0.9" stroke-dasharray="1,1.5"/>
<line x1="96.2" y1="283.8" x2="170.8" y2="283.8" stroke="#222" stroke-width="0.8" />
<text x="136.75" y="233.8" font-size="9.8" font-weight="bold" text-anchor="middle" fill="#111" font-family="Liberation Sans, sans-serif" stroke="#111" stroke-width="0.25">Dex</text>
<text transform="translate(140.95,252.0) scale(0.8,1)" font-size="8.9" font-weight="bold" text-anchor="middle" font-family="Liberation Sans, sans-serif" fill="#111" stroke="#111" stroke-width="0.3">58.7<tspan dx="1.6">%</tspan></text>
<line x1="131.5" y1="259.1" x2="168.6" y2="259.1" stroke="#444" stroke-width="1.0" />
<line x1="131.5" y1="255.70000000000002" x2="131.5" y2="261.90000000000003" stroke="#222" stroke-width="1.0" />
<line x1="168.6" y1="255.70000000000002" x2="168.6" y2="261.90000000000003" stroke="#222" stroke-width="1.0" />
<text x="152.05" y="263.3" font-size="3.4" font-weight="normal" text-anchor="middle" fill="#999" font-family="Liberation Sans, sans-serif" >M1</text>
<polygon points="173.90,283.60 174.20,281.64 174.65,280.37 175.10,280.07 175.55,279.10 176.00,278.20 176.45,278.34 176.90,278.57 177.35,278.47 177.80,277.32 178.25,277.19 178.70,276.39 179.15,275.58 179.60,273.37 180.05,271.92 180.50,271.90 180.95,270.51 181.40,271.53 181.85,271.26 182.30,267.71 182.75,269.54 183.20,268.49 183.65,267.24 184.10,268.75 184.55,269.16 185.00,268.29 185.45,267.22 185.90,266.19 186.35,264.55 186.80,265.47 187.25,266.68 187.70,266.89 188.15,267.37 188.60,267.29 189.05,267.30 189.50,265.63 189.95,264.31 190.40,261.62 190.85,263.66 191.30,264.74 191.75,263.63 192.20,264.82 192.65,265.00 193.10,261.29 193.55,263.77 194.00,264.24 194.45,264.33 194.90,266.86 195.35,263.04 195.80,263.90 196.25,264.11 196.70,262.89 197.15,263.95 197.60,265.97 198.05,267.55 198.50,269.36 198.95,269.07 199.40,268.91 199.85,268.10 200.30,266.48 200.75,268.41 201.20,268.53 201.65,268.92 202.10,269.61 202.55,268.76 203.00,269.85 203.45,267.72 203.90,267.92 204.35,267.61 204.80,269.10 205.25,270.49 205.70,271.10 206.15,271.79 206.60,270.03 207.05,268.68 207.50,271.30 207.95,271.02 208.40,273.57 208.85,273.76 209.30,274.72 209.75,273.79 210.20,273.16 210.65,273.42 211.10,272.02 211.55,275.42 212.00,275.44 212.45,275.13 212.90,274.60 213.35,271.99 213.80,273.67 214.25,270.35 214.70,272.11 215.15,272.78 215.60,273.00 216.05,274.00 216.50,272.06 216.95,271.59 217.40,271.17 217.85,271.74 218.30,271.72 218.75,272.25 219.20,271.50 219.65,273.59 220.10,273.00 220.55,270.09 221.00,271.35 221.45,270.25 221.90,271.27 222.35,270.82 222.80,272.27 223.25,271.98 223.70,271.16 224.15,268.68 224.60,269.21 225.05,269.31 225.50,269.22 225.95,269.40 226.40,271.20 226.85,269.70 227.30,268.99 227.75,267.56 228.20,266.14 228.65,266.40 229.10,268.30 229.55,269.63 230.00,270.07 230.45,269.27 230.90,269.73 231.35,268.80 231.80,270.22 232.25,271.34 232.70,271.84 233.15,273.68 233.60,273.44 234.05,273.86 234.50,273.50 234.95,274.29 235.40,273.25 235.85,274.78 236.30,276.23 236.75,276.68 237.20,277.75 237.65,276.89 238.10,277.30 238.55,275.26 239.00,277.89 239.45,278.65 239.90,279.55 240.35,279.74 240.80,280.09 241.25,278.29 241.70,280.06 242.15,279.63 242.60,280.15 243.05,280.41 243.50,280.87 243.95,280.99 244.40,281.17 244.85,281.09 245.30,281.21 245.75,281.03 246.20,281.73 246.65,282.35 247.10,282.09 247.30,283.60" fill="#353535" stroke="#222" stroke-width="0.35"/>
<line x1="173.1" y1="222.2" x2="248.6" y2="222.2" stroke="#111" stroke-width="1.2" />
<line x1="248.0" y1="222.2" x2="248.0" y2="283.8" stroke="#555" stroke-width="1.2" />
<line x1="173.6" y1="222.2" x2="173.6" y2="283.8" stroke="#444" stroke-width="0.9" stroke-dasharray="1,1.5"/>
<line x1="173.6" y1="283.8" x2="248.0" y2="283.8" stroke="#222" stroke-width="0.8" />
<text x="218.5" y="233.8" font-size="9.8" font-weight="bold" text-anchor="middle" fill="#111" font-family="Liberation Sans, sans-serif" stroke="#111" stroke-width="0.25">Dex+IL-6</text>
<text transform="translate(223.40,252.0) scale(0.8,1)" font-size="8.9" font-weight="bold" text-anchor="middle" font-family="Liberation Sans, sans-serif" fill="#111" stroke="#111" stroke-width="0.3">32.8<tspan dx="1.6">%</tspan></text>
<polygon points="241.70,247.20 242.38,248.97 244.27,249.07 242.79,250.26 243.29,252.08 241.70,251.05 240.11,252.08 240.61,250.26 239.13,249.07 241.02,248.97" fill="#8a8a8a"/>
<line x1="209.1" y1="259.1" x2="246.0" y2="259.1" stroke="#444" stroke-width="1.0" />
<line x1="209.1" y1="255.70000000000002" x2="209.1" y2="261.90000000000003" stroke="#222" stroke-width="1.0" />
<line x1="246.0" y1="255.70000000000002" x2="246.0" y2="261.90000000000003" stroke="#222" stroke-width="1.0" />
<text x="229.55" y="263.3" font-size="3.4" font-weight="normal" text-anchor="middle" fill="#999" font-family="Liberation Sans, sans-serif" >M1</text>
<polygon points="251.60,283.60 251.20,278.90 251.65,276.50 252.10,276.01 252.55,274.94 253.00,275.42 253.45,275.05 253.90,275.15 254.35,274.34 254.80,274.70 255.25,273.89 255.70,273.01 256.15,270.95 256.60,271.03 257.05,269.27 257.50,269.35 257.95,269.22 258.40,270.75 258.85,271.32 259.30,271.24 259.75,270.12 260.20,270.35 260.65,269.80 261.10,270.42 261.55,267.68 262.00,270.54 262.45,268.69 262.90,271.44 263.35,270.86 263.80,270.39 264.25,269.33 264.70,268.77 265.15,267.12 265.60,266.62 266.05,267.75 266.50,266.10 266.95,268.80 267.40,268.45 267.85,268.27 268.30,269.13 268.75,269.07 269.20,269.53 269.65,269.87 270.10,270.88 270.55,270.53 271.00,271.65 271.45,270.46 271.90,271.75 272.35,270.24 272.80,268.86 273.25,266.29 273.70,265.67 274.15,267.26 274.60,267.88 275.05,268.95 275.50,270.90 275.95,268.22 276.40,270.06 276.85,270.49 277.30,270.33 277.75,271.22 278.20,272.70 278.65,272.49 279.10,274.23 279.55,274.62 280.00,274.66 280.45,275.08 280.90,274.09 281.35,273.99 281.80,274.84 282.25,275.10 282.70,272.64 283.15,276.04 283.60,275.87 284.05,275.86 284.50,276.30 284.95,276.17 285.40,275.60 285.85,276.48 286.30,276.15 286.75,276.23 287.20,274.73 287.65,277.91 288.10,277.78 288.55,278.22 289.00,276.78 289.45,276.73 289.90,274.60 290.35,276.23 290.80,276.06 291.25,276.33 291.70,276.80 292.15,276.30 292.60,276.08 293.05,274.09 293.50,274.56 293.95,274.80 294.40,274.55 294.85,273.91 295.30,274.17 295.75,274.61 296.20,275.59 296.65,274.10 297.10,273.64 297.55,274.51 298.00,273.94 298.45,271.19 298.90,272.53 299.35,273.13 299.80,273.89 300.25,272.99 300.70,274.42 301.15,274.01 301.60,272.49 302.05,270.21 302.50,270.87 302.95,271.72 303.40,271.25 303.85,272.70 304.30,271.59 304.75,272.21 305.20,271.15 305.65,270.65 306.10,268.86 306.55,269.03 307.00,268.45 307.45,269.22 307.90,270.67 308.35,271.09 308.80,272.06 309.25,271.41 309.70,271.76 310.15,269.56 310.60,271.70 311.05,271.47 311.50,272.32 311.95,272.48 312.40,274.14 312.85,274.70 313.30,275.01 313.75,275.18 314.20,274.74 314.65,274.74 315.10,275.53 315.55,276.65 316.00,276.43 316.45,277.89 316.90,278.44 317.35,278.38 317.80,278.86 318.25,278.46 318.70,278.56 319.15,279.14 319.60,279.44 320.05,278.17 320.50,279.96 320.95,281.12 321.40,281.12 321.85,280.94 322.30,279.08 322.75,279.26 323.20,281.32 323.65,280.95 324.10,282.56 324.55,282.70 324.80,283.60" fill="#353535" stroke="#222" stroke-width="0.35"/>
<line x1="250.8" y1="222.2" x2="325.70000000000005" y2="222.2" stroke="#111" stroke-width="1.2" />
<line x1="325.1" y1="222.2" x2="325.1" y2="283.8" stroke="#777" stroke-width="1.2" />
<line x1="251.3" y1="222.2" x2="251.3" y2="283.8" stroke="#444" stroke-width="0.9" stroke-dasharray="1,1.5"/>
<line x1="251.3" y1="283.8" x2="325.1" y2="283.8" stroke="#222" stroke-width="0.8" />
<text x="296.9" y="233.8" font-size="9.8" font-weight="bold" text-anchor="middle" fill="#111" font-family="Liberation Sans, sans-serif" stroke="#111" stroke-width="0.25">Dex+IGF-I</text>
<text transform="translate(299.30,252.0) scale(0.8,1)" font-size="8.9" font-weight="bold" text-anchor="middle" font-family="Liberation Sans, sans-serif" fill="#111" stroke="#111" stroke-width="0.3">33.8<tspan dx="1.6">%</tspan></text>
<polygon points="318.80,247.20 319.48,248.97 321.37,249.07 319.89,250.26 320.39,252.08 318.80,251.05 317.21,252.08 317.71,250.26 316.23,249.07 318.12,248.97" fill="#8a8a8a"/>
<line x1="286.1" y1="259.1" x2="323.0" y2="259.1" stroke="#444" stroke-width="1.0" />
<line x1="286.1" y1="255.70000000000002" x2="286.1" y2="261.90000000000003" stroke="#222" stroke-width="1.0" />
<line x1="323.0" y1="255.70000000000002" x2="323.0" y2="261.90000000000003" stroke="#222" stroke-width="1.0" />
<text x="306.55" y="263.3" font-size="3.4" font-weight="normal" text-anchor="middle" fill="#999" font-family="Liberation Sans, sans-serif" >M1</text>
<g transform="translate(12.9,245.3) rotate(-90)"><text x="0" y="0" font-size="9.5" font-weight="bold" text-anchor="middle" font-family="Liberation Sans, sans-serif" fill="#000" stroke="#000" stroke-width="0.25">Cell counts</text></g>
<line x1="8.2" y1="274" x2="8.2" y2="293.5" stroke="#222" stroke-width="1.0" />
<line x1="8.2" y1="293.5" x2="26" y2="293.5" stroke="#222" stroke-width="1.0" />
<polygon points="8.2,271.6 6.3,276 10.1,276" fill="#222"/>
<polygon points="29.5,293.5 25.2,291.6 25.2,295.4" fill="#222"/>
<text x="32.5" y="298.5" font-size="9.6" font-weight="bold" text-anchor="start" fill="#000" font-family="Liberation Sans, sans-serif" stroke="#000" stroke-width="0.25">Annexin V</text>
<text x="338.6" y="162.6" font-size="13.2" font-weight="bold" text-anchor="start" fill="#000" font-family="Liberation Sans, sans-serif" stroke="#000" stroke-width="0.45">D</text>
<line x1="372.4" y1="168.3" x2="372.4" y2="251.9" stroke="#333" stroke-width="1.0" />
<line x1="372.4" y1="251.9" x2="518.5" y2="251.9" stroke="#333" stroke-width="1.0" />
<line x1="370.5" y1="251.9" x2="372.4" y2="251.9" stroke="#333" stroke-width="0.9" />
<text transform="translate(366.1,254.80) scale(0.86,1)" font-size="8" text-anchor="end" font-family="Liberation Sans, sans-serif" fill="#111" stroke="#111" stroke-width="0.3">0</text>
<line x1="370.5" y1="242.61111111111111" x2="372.4" y2="242.61111111111111" stroke="#333" stroke-width="0.9" />
<text transform="translate(366.1,245.51) scale(0.86,1)" font-size="8" text-anchor="end" font-family="Liberation Sans, sans-serif" fill="#111" stroke="#111" stroke-width="0.3">10</text>
<line x1="370.5" y1="233.32222222222222" x2="372.4" y2="233.32222222222222" stroke="#333" stroke-width="0.9" />
<text transform="translate(366.1,236.22) scale(0.86,1)" font-size="8" text-anchor="end" font-family="Liberation Sans, sans-serif" fill="#111" stroke="#111" stroke-width="0.3">20</text>
<line x1="370.5" y1="224.03333333333333" x2="372.4" y2="224.03333333333333" stroke="#333" stroke-width="0.9" />
<text transform="translate(366.1,226.93) scale(0.86,1)" font-size="8" text-anchor="end" font-family="Liberation Sans, sans-serif" fill="#111" stroke="#111" stroke-width="0.3">30</text>
<line x1="370.5" y1="214.74444444444447" x2="372.4" y2="214.74444444444447" stroke="#333" stroke-width="0.9" />
<text transform="translate(366.1,217.64) scale(0.86,1)" font-size="8" text-anchor="end" font-family="Liberation Sans, sans-serif" fill="#111" stroke="#111" stroke-width="0.3">40</text>
<line x1="370.5" y1="205.45555555555558" x2="372.4" y2="205.45555555555558" stroke="#333" stroke-width="0.9" />
<text transform="translate(366.1,208.36) scale(0.86,1)" font-size="8" text-anchor="end" font-family="Liberation Sans, sans-serif" fill="#111" stroke="#111" stroke-width="0.3">50</text>
<line x1="370.5" y1="196.16666666666669" x2="372.4" y2="196.16666666666669" stroke="#333" stroke-width="0.9" />
<text transform="translate(366.1,199.07) scale(0.86,1)" font-size="8" text-anchor="end" font-family="Liberation Sans, sans-serif" fill="#111" stroke="#111" stroke-width="0.3">60</text>
<line x1="370.5" y1="186.8777777777778" x2="372.4" y2="186.8777777777778" stroke="#333" stroke-width="0.9" />
<text transform="translate(366.1,189.78) scale(0.86,1)" font-size="8" text-anchor="end" font-family="Liberation Sans, sans-serif" fill="#111" stroke="#111" stroke-width="0.3">70</text>
<line x1="370.5" y1="177.5888888888889" x2="372.4" y2="177.5888888888889" stroke="#333" stroke-width="0.9" />
<text transform="translate(366.1,180.49) scale(0.86,1)" font-size="8" text-anchor="end" font-family="Liberation Sans, sans-serif" fill="#111" stroke="#111" stroke-width="0.3">80</text>
<line x1="370.5" y1="168.3" x2="372.4" y2="168.3" stroke="#333" stroke-width="0.9" />
<text transform="translate(366.1,171.20) scale(0.86,1)" font-size="8" text-anchor="end" font-family="Liberation Sans, sans-serif" fill="#111" stroke="#111" stroke-width="0.3">90</text>
<line x1="372.9" y1="251.9" x2="372.9" y2="254.9" stroke="#333" stroke-width="0.9" />
<line x1="393.65999999999997" y1="251.9" x2="393.65999999999997" y2="254.9" stroke="#333" stroke-width="0.9" />
<line x1="414.41999999999996" y1="251.9" x2="414.41999999999996" y2="254.9" stroke="#333" stroke-width="0.9" />
<line x1="435.17999999999995" y1="251.9" x2="435.17999999999995" y2="254.9" stroke="#333" stroke-width="0.9" />
<line x1="455.94" y1="251.9" x2="455.94" y2="254.9" stroke="#333" stroke-width="0.9" />
<line x1="476.7" y1="251.9" x2="476.7" y2="254.9" stroke="#333" stroke-width="0.9" />
<line x1="497.46" y1="251.9" x2="497.46" y2="254.9" stroke="#333" stroke-width="0.9" />
<line x1="518.22" y1="251.9" x2="518.22" y2="254.9" stroke="#333" stroke-width="0.9" />
<g transform="translate(353.0,233.1) rotate(-90) scale(1.0,1)"><text x="0" y="0" font-size="7.85" font-weight="bold" text-anchor="start" font-family="Liberation Sans, sans-serif" fill="#000" stroke="#000" stroke-width="0.3">Apoptotic cells</text></g>
<g transform="translate(353.0,239.6) rotate(-90)"><text x="0" y="0" font-size="7" text-anchor="middle" font-family="Liberation Sans, sans-serif" fill="#444" stroke="#444" stroke-width="0.2">%</text></g>
<line x1="383.84999999999997" y1="225.42666666666668" x2="383.84999999999997" y2="232.39333333333335" stroke="#333" stroke-width="0.9" />
<line x1="381.74999999999994" y1="225.42666666666668" x2="385.95" y2="225.42666666666668" stroke="#333" stroke-width="1.0" />
<rect x="379.4" y="232.39333333333335" width="8.9" height="19.50666666666666" fill="#676767" stroke="#333" stroke-width="0.9"/>
<line x1="404.60999999999996" y1="182.3262222222222" x2="404.60999999999996" y2="187.34222222222223" stroke="#333" stroke-width="0.9" />
<line x1="402.50999999999993" y1="182.3262222222222" x2="406.71" y2="182.3262222222222" stroke="#333" stroke-width="1.0" />
<rect x="400.15999999999997" y="187.34222222222223" width="8.9" height="64.55777777777777" fill="#676767" stroke="#333" stroke-width="0.9"/>
<line x1="425.36999999999995" y1="177.31022222222225" x2="425.36999999999995" y2="187.34222222222223" stroke="#333" stroke-width="0.9" />
<line x1="423.2699999999999" y1="177.31022222222225" x2="427.46999999999997" y2="177.31022222222225" stroke="#333" stroke-width="1.0" />
<rect x="420.91999999999996" y="187.34222222222223" width="8.9" height="64.55777777777777" fill="#676767" stroke="#333" stroke-width="0.9"/>
<line x1="446.12999999999994" y1="175.45244444444444" x2="446.12999999999994" y2="183.99822222222224" stroke="#333" stroke-width="0.9" />
<line x1="444.0299999999999" y1="175.45244444444444" x2="448.22999999999996" y2="175.45244444444444" stroke="#333" stroke-width="1.0" />
<rect x="441.67999999999995" y="183.99822222222224" width="8.9" height="67.90177777777777" fill="#676767" stroke="#333" stroke-width="0.9"/>
<line x1="466.89" y1="192.35822222222222" x2="466.89" y2="202.11155555555555" stroke="#333" stroke-width="0.9" />
<line x1="464.78999999999996" y1="192.35822222222222" x2="468.99" y2="192.35822222222222" stroke="#333" stroke-width="1.0" />
<rect x="462.44" y="202.11155555555555" width="8.9" height="49.78844444444445" fill="#676767" stroke="#333" stroke-width="0.9"/>
<line x1="487.65" y1="213.25822222222223" x2="487.65" y2="222.26844444444444" stroke="#333" stroke-width="0.9" />
<line x1="485.54999999999995" y1="213.25822222222223" x2="489.75" y2="213.25822222222223" stroke="#333" stroke-width="1.0" />
<rect x="483.2" y="222.26844444444444" width="8.9" height="29.631555555555565" fill="#676767" stroke="#333" stroke-width="0.9"/>
<line x1="508.40999999999997" y1="214.00133333333335" x2="508.40999999999997" y2="221.7111111111111" stroke="#333" stroke-width="0.9" />
<line x1="506.30999999999995" y1="214.00133333333335" x2="510.51" y2="214.00133333333335" stroke="#333" stroke-width="1.0" />
<rect x="503.96" y="221.7111111111111" width="8.9" height="30.188888888888897" fill="#676767" stroke="#333" stroke-width="0.9"/>
<line x1="488.2" y1="206.7" x2="488.2" y2="210.3" stroke="#666" stroke-width="0.8" />
<line x1="486.64" y1="207.6" x2="489.76" y2="209.4" stroke="#666" stroke-width="0.8" />
<line x1="489.76" y1="207.6" x2="486.64" y2="209.4" stroke="#666" stroke-width="0.8" />
<line x1="508.9" y1="208.4" x2="508.9" y2="212.0" stroke="#666" stroke-width="0.8" />
<line x1="507.34" y1="209.3" x2="510.46" y2="211.1" stroke="#666" stroke-width="0.8" />
<line x1="510.46" y1="209.3" x2="507.34" y2="211.1" stroke="#666" stroke-width="0.8" />
<g transform="translate(379.30,263.2) rotate(-44)"><text x="0" y="2.6" font-size="7.2" text-anchor="end" font-family="Liberation Sans, sans-serif" fill="#222" stroke="#222" stroke-width="0.15">Medium</text></g>
<g transform="translate(400.30,263.2) rotate(-44)"><text x="0" y="2.6" font-size="7.2" text-anchor="end" font-family="Liberation Sans, sans-serif" fill="#222" stroke="#222" stroke-width="0.15">mAb D1</text></g>
<g transform="translate(421.30,263.2) rotate(-44)"><text x="0" y="2.6" font-size="7.2" text-anchor="end" font-family="Liberation Sans, sans-serif" fill="#222" stroke="#222" stroke-width="0.15">D1+IL-6</text></g>
<g transform="translate(442.30,263.2) rotate(-44)"><text x="0" y="2.6" font-size="7.2" text-anchor="end" font-family="Liberation Sans, sans-serif" fill="#222" stroke="#222" stroke-width="0.15">D1+IGF-1</text></g>
<g transform="translate(463.30,263.2) rotate(-44)"><text x="0" y="2.6" font-size="7.2" text-anchor="end" font-family="Liberation Sans, sans-serif" fill="#222" stroke="#222" stroke-width="0.15">Dex</text></g>
<g transform="translate(484.30,263.2) rotate(-44)"><text x="0" y="2.6" font-size="7.2" text-anchor="end" font-family="Liberation Sans, sans-serif" fill="#222" stroke="#222" stroke-width="0.15">Dex+IL-6</text></g>
<g transform="translate(505.30,263.2) rotate(-44)"><text x="0" y="2.6" font-size="7.2" text-anchor="end" font-family="Liberation Sans, sans-serif" fill="#222" stroke="#222" stroke-width="0.15">Dex+IGF-1</text></g>
</svg>
</body></html>
